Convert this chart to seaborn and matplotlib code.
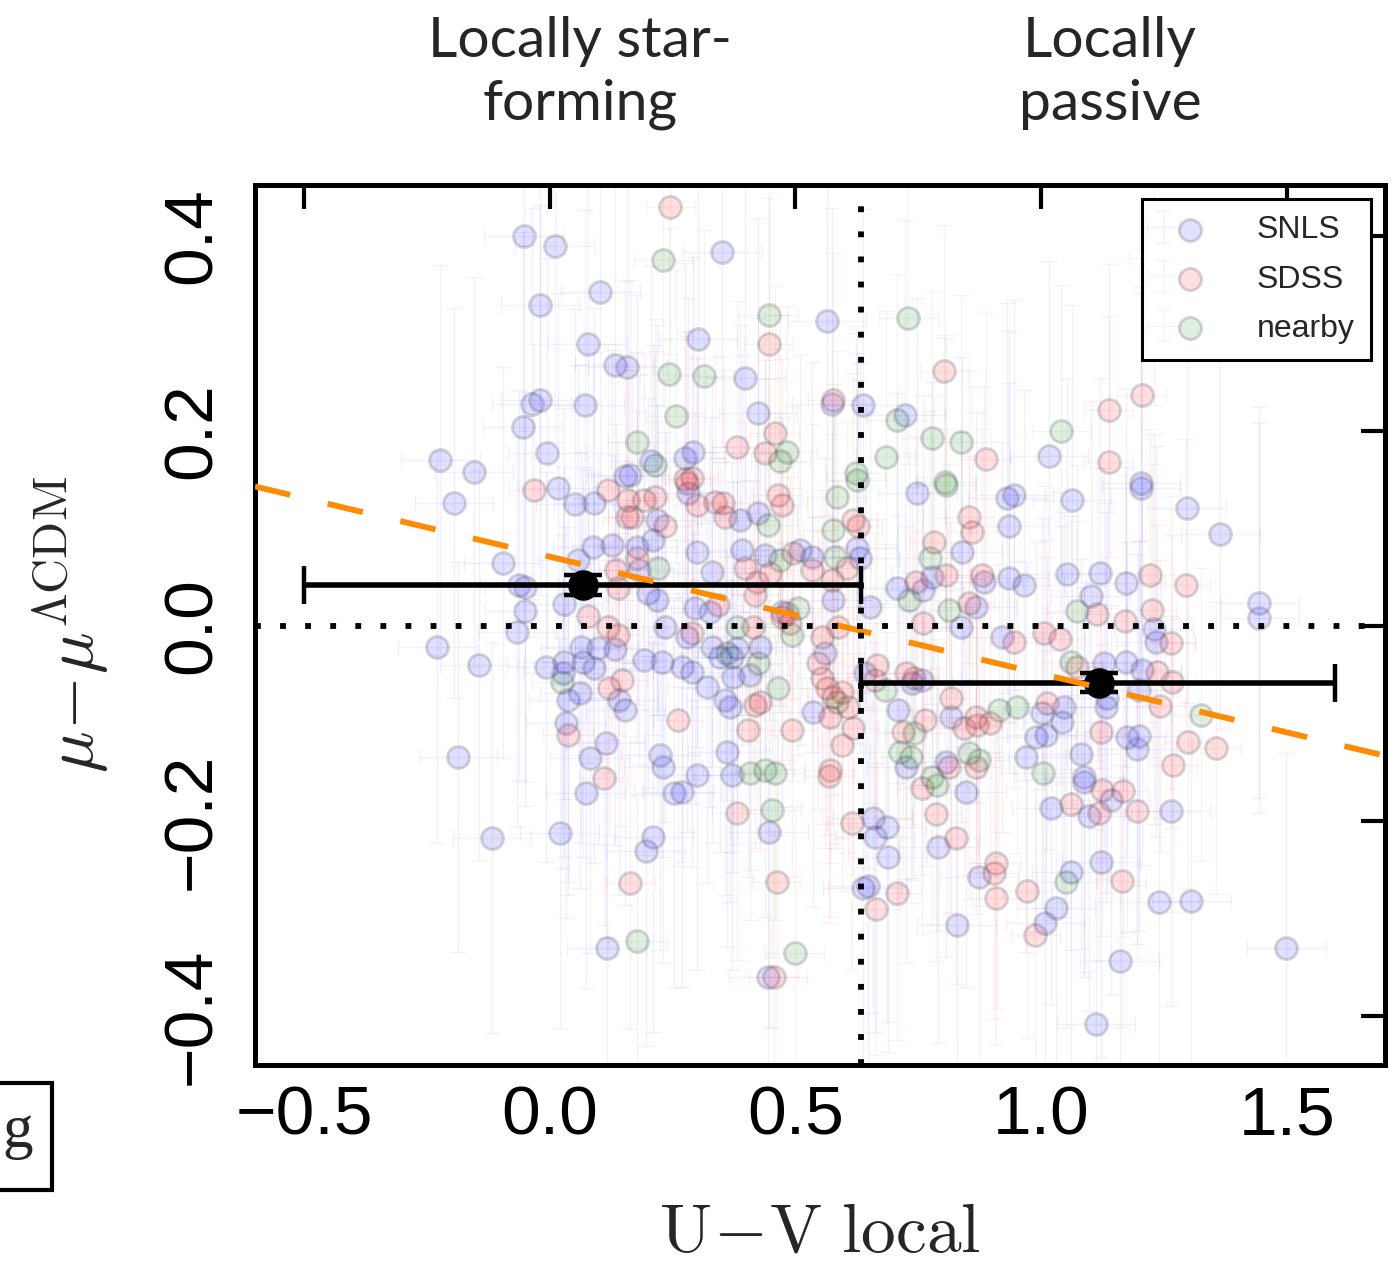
import numpy as np
import pandas as pd
import matplotlib
matplotlib.use("Agg")
import matplotlib.pyplot as plt
import seaborn as sns
from matplotlib.legend_handler import HandlerTuple
from matplotlib.patches import Rectangle

# ---------------- data ----------------
snls_x = [-0.053, 0.010, -0.020, 0.103, 0.077, 0.132, 0.158, -0.037, -0.020, 0.071,
          -0.055, -0.223, -0.154, -0.006, 0.154, 0.351, 0.302, 0.398, 0.564, 0.574,
          0.637, 0.424, 0.724, 0.205, 0.276, 0.292, 0.164, 1.016, 1.203, -0.195,
          -0.095, -0.063, -0.051, -0.051, 0.028, -0.067, -0.229, -0.144, -0.008, 0.028,
          0.026, 0.063, 0.099, 0.132, 0.067, 0.089, 0.037, 0.061, 0.032, 0.114,
          0.081, -0.187, 0.016, 0.051, 0.089, 0.087, 0.126, 0.057, 0.154, 0.140,
          0.282, 0.219, 0.211, 0.178, 0.181, 0.199, 0.219, 0.424, 0.387, 0.300,
          0.391, 0.438, 0.331, 0.509, 0.533, 0.625, 0.631, 0.576, 0.651, 0.296,
          0.327, 0.235, 0.280, 0.473, 0.191, 0.229, 0.270, 0.290, 0.331, 0.347,
          0.381, 0.371, 0.428, 0.373, 0.408, 0.320, 0.560, 0.357, 0.367, 0.535,
          0.361, 0.225, 0.231, 0.300, 0.371, 0.641, 0.738, 0.757, 0.708, 0.817,
          0.726, 0.807, 0.748, 0.931, 0.840, 0.777, 0.706, 0.759, 0.838, 0.884,
          0.868, 0.935, 0.935, 0.921, 0.945, 1.063, 1.203, 1.296, 1.365, 0.966,
          1.053, 1.120, 1.172, 1.101, 1.444, 1.444, 1.229, 1.233, 1.128, 1.172,
          1.205, 1.199, 1.134, 1.132, 1.002, 1.047, 1.043, 0.990, 1.010, 1.174,
          1.199, 1.195, 0.970, 1.081, 1.087, 1.142, 1.020, 1.097, 1.264, 1.122,
          1.061, 1.241, 1.306, 1.030, 1.008, 1.160, 1.499, 1.112, -0.118, 0.020,
          0.073, 0.116, 0.252, 0.270, 0.446, 0.211, 0.195, 0.444, 0.657, 0.686,
          0.661, 0.688, 0.848, 0.791, 0.637, 0.647, 0.828, 0.874, 1.087]
snls_y = [0.400, 0.389, 0.329, 0.342, 0.289, 0.267, 0.265, 0.228, 0.232, 0.226,
          0.204, 0.170, 0.158, 0.177, 0.154, 0.383, 0.294, 0.254, 0.313, 0.228,
          0.227, 0.218, 0.216, 0.169, 0.172, 0.178, 0.155, 0.174, 0.147, 0.126,
          0.065, 0.042, 0.040, 0.015, 0.023, -0.006, -0.022, -0.040, -0.042, -0.037,
          -0.048, -0.022, -0.023, -0.024, -0.037, -0.043, -0.076, -0.069, -0.099, -0.120,
          -0.135, -0.134, 0.141, 0.125, 0.126, 0.081, 0.083, 0.068, -0.086, -0.076,
          0.136, 0.109, 0.088, 0.081, 0.057, 0.034, 0.027, 0.116, 0.109, 0.076,
          0.078, 0.073, 0.055, 0.078, 0.071, 0.080, 0.070, 0.027, 0.019, 0.018,
          0.014, -0.001, -0.011, 0.014, -0.035, -0.037, -0.042, -0.047, -0.022, -0.032,
          -0.023, -0.032, -0.022, -0.052, -0.050, -0.063, -0.028, -0.076, -0.083, -0.088,
          -0.129, -0.132, -0.145, -0.153, -0.153, -0.048, -0.058, -0.055, -0.086, -0.093,
          -0.145, -0.139, 0.136, 0.131, 0.076, 0.050, 0.039, 0.037, -0.001, 0.045,
          0.019, 0.102, 0.049, -0.011, 0.134, 0.129, 0.141, 0.121, 0.094, 0.042,
          0.053, 0.054, 0.044, 0.031, 0.024, 0.008, -0.003, -0.016, -0.038, -0.037,
          -0.045, -0.066, -0.074, -0.083, -0.089, -0.083, -0.098, -0.114, -0.112, -0.114,
          -0.113, -0.126, -0.134, -0.131, -0.155, -0.178, -0.187, -0.195, -0.190, -0.242,
          -0.252, -0.283, -0.282, -0.289, -0.304, -0.343, -0.330, -0.408, -0.217, -0.212,
          -0.171, -0.330, -0.171, -0.170, -0.211, -0.216, -0.231, -0.360, -0.197, -0.206,
          -0.216, -0.237, -0.170, -0.227, -0.269, -0.267, -0.307, -0.257, -0.160]

sdss_x = [0.245, 0.446, 0.803, 0.576, 0.458, 0.888, 0.381, 0.438, 0.276, 0.290,
          1.229, 1.205, 1.138, 1.138, -0.032, 0.118, 0.158, 0.160, 0.134, 0.138,
          0.077, 0.118, 0.138, 0.120, 0.148, 0.037, 0.110, 0.280, 0.337, 0.353,
          0.300, 0.191, 0.215, 0.235, 0.168, 0.178, 0.357, 0.464, 0.473, 0.398,
          0.422, 0.418, 0.495, 0.533, 0.448, 0.574, 0.604, 0.617, 0.627, 0.343,
          0.290, 0.414, 0.473, 0.483, 0.489, 0.554, 0.586, 0.546, 0.554, 0.564,
          0.576, 0.594, 0.606, 0.418, 0.428, 0.260, 0.404, 0.493, 0.570, 0.617,
          0.594, 0.570, 0.667, 0.661, 0.726, 0.742, 0.718, 0.763, 0.817, 0.868,
          0.870, 0.844, 0.895, 0.813, 0.868, 0.854, 0.860, 0.783, 0.807, 0.746,
          0.759, 0.880, 0.854, 1.221, 1.294, 1.114, 1.170, 1.225, 1.264, 1.006,
          1.039, 0.945, 1.073, 1.235, 1.266, 1.012, 1.243, 1.122, 1.300, 1.357,
          1.268, 0.164, 0.568, 0.381, 0.462, 0.456, 0.615, 0.757, 0.787, 0.826,
          0.706, 0.663, 0.909, 0.905, 0.909, 1.124, 1.166, 1.061, 1.118, 1.195,
          1.164, 0.972, 0.988]
sdss_y = [0.429, 0.289, 0.261, 0.232, 0.198, 0.171, 0.183, 0.177, 0.151, 0.152,
          0.377, 0.237, 0.221, 0.168, 0.139, 0.139, 0.112, 0.129, 0.057, 0.039,
          0.010, -0.001, -0.009, -0.064, -0.055, -0.112, -0.156, 0.147, 0.127, 0.126,
          0.124, 0.129, 0.132, 0.102, 0.112, 0.070, 0.112, 0.134, 0.124, 0.059,
          0.045, 0.032, 0.075, 0.057, 0.054, 0.047, 0.059, 0.109, 0.102, 0.022,
          -0.007, -0.001, 0.009, 0.013, 0.003, -0.011, -0.001, -0.038, -0.053, -0.064,
          -0.073, -0.068, -0.083, -0.081, -0.078, -0.096, -0.107, -0.107, -0.093, -0.105,
          -0.122, -0.148, -0.040, -0.055, -0.048, -0.053, -0.109, -0.096, -0.074, -0.093,
          -0.102, -0.105, -0.099, -0.145, -0.145, 0.112, 0.096, 0.086, 0.052, 0.045,
          0.003, 0.052, 0.024, 0.052, 0.042, 0.012, 0.005, 0.016, -0.017, -0.007,
          -0.013, -0.016, -0.042, -0.047, -0.057, -0.079, -0.082, -0.109, -0.119, -0.125,
          -0.143, -0.263, -0.154, -0.192, -0.262, -0.360, -0.202, -0.166, -0.193, -0.217,
          -0.274, -0.290, -0.243, -0.253, -0.279, -0.168, -0.169, -0.182, -0.192, -0.190,
          -0.261, -0.272, -0.317]

nearby_x = [0.231, 0.446, 0.730, 0.243, 0.314, 0.256, 0.706, 0.178, 0.777, 0.838,
            0.215, 0.483, 0.469, 0.684, 0.623, 0.805, 1.041, 0.024, 0.221, 0.444,
            0.469, 0.576, 0.584, 0.580, 0.625, 0.381, 0.505, 0.493, 0.361, 0.424,
            0.584, 0.464, 0.408, 0.438, 0.458, 0.682, 0.742, 0.915, 0.712, 0.736,
            0.854, 0.874, 0.777, 0.807, 0.773, 0.732, 0.813, 1.073, 1.061, 0.951,
            1.325, 1.004, 1.051, 0.789, 0.452, 0.178, 0.499]
nearby_y = [0.375, 0.319, 0.316, 0.258, 0.256, 0.215, 0.211, 0.189, 0.193, 0.189,
            0.165, 0.178, 0.169, 0.173, 0.157, 0.148, 0.200, -0.057, 0.059, 0.103,
            0.068, 0.098, 0.132, 0.071, 0.150, -0.001, 0.018, -0.009, -0.028, -0.038,
            -0.078, -0.064, -0.151, -0.148, -0.151, -0.066, -0.110, -0.086, -0.129, -0.134,
            -0.130, -0.137, -0.155, 0.145, 0.070, 0.027, 0.016, 0.015, -0.037, -0.083,
            -0.091, -0.151, -0.262, -0.163, -0.189, -0.323, -0.335]

# typical (estimated) per-survey uncertainties
survey_names = ["SNLS", "SDSS", "nearby"]
survey_xerr = [0.08, 0.05, 0.06]
survey_yerr = [0.20, 0.15, 0.15]

# binned means
bin_x = [0.067, 1.118]
bin_y = [0.042, -0.058]
bin_xlo = [-0.500, 0.633]
bin_xhi = [0.633, 1.598]
bin_yerr = [0.010, 0.010]

# linear trend
fit_slope = -0.120
fit_intercept = 0.071

split_x = 0.633
x_ticks = [-0.5, 0.0, 0.5, 1.0, 1.5]
y_ticks = [-0.4, -0.2, 0.0, 0.2, 0.4]

# ---------------- plotting ----------------
sns.set_style("white")
plt.rcParams["font.family"] = ["Liberation Sans", "DejaVu Sans"]
plt.rcParams["mathtext.fontset"] = "cm"

W, H = 1396, 1264
fig = plt.figure(figsize=(W / 100, H / 100), dpi=100)
ax = fig.add_axes([255 / W, 1 - 1065 / H, (1385 - 255) / W, (1065 - 185) / H])

df = pd.concat([
    pd.DataFrame({"x": snls_x, "y": snls_y, "survey": "SNLS"}),
    pd.DataFrame({"x": sdss_x, "y": sdss_y, "survey": "SDSS"}),
    pd.DataFrame({"x": nearby_x, "y": nearby_y, "survey": "nearby"}),
], ignore_index=True)

base_cols = {"SNLS": (0.0, 0.0, 1.0), "SDSS": (1.0, 0.0, 0.0), "nearby": (0.0, 0.5, 0.0)}

handles = []
for name, xe, ye in zip(survey_names, survey_xerr, survey_yerr):
    sub = df[df["survey"] == name]
    c = base_cols[name]
    eb = ax.errorbar(sub["x"], sub["y"], xerr=xe, yerr=ye, fmt="none",
                     ecolor=c + (0.06,), elinewidth=1.0, capsize=6, capthick=1.0,
                     zorder=1)
    sns.scatterplot(data=sub, x="x", y="y", ax=ax, color=c + (0.12,),
                    edgecolor=(0.3, 0.3, 0.35, 0.22), linewidth=2.2, s=250,
                    legend=False, zorder=2)
    sc = ax.collections[-1]
    handles.append((eb, sc))

# binned means with error bars
for bx, by, lo, hi, ye in zip(bin_x, bin_y, bin_xlo, bin_xhi, bin_yerr):
    ax.errorbar([bx], [by], xerr=[[bx - lo], [hi - bx]], yerr=[[ye], [ye]],
                fmt="o", color="black", ms=21, elinewidth=4.0, capsize=14,
                capthick=3.2, zorder=5)

# dashed trend line
xl = (-0.6, 1.7)
line_x = np.array(xl)
sns.lineplot(x=line_x, y=fit_intercept + fit_slope * line_x, ax=ax,
             color="darkorange", lw=4.2, zorder=6)
ax.lines[-1].set_dashes((6.2, 6.6))

# dotted reference lines
ax.axhline(0, color="black", lw=4.2, ls=(0, (1, 3.3)), dash_capstyle="butt", zorder=7)
ax.axvline(split_x, color="black", lw=4.2, ls=(0, (1, 3.3)), dash_capstyle="butt", zorder=7)

ax.set_xlim(*xl)
ax.set_ylim(-0.45, 0.452)
ax.set_xticks(x_ticks)
ax.set_xticklabels(["\u22120.5", "0.0", "0.5", "1.0", "1.5"])
ax.set_yticks(y_ticks)
ax.set_yticklabels(["\u22120.4", "\u22120.2", "0.0", "0.2", "0.4"])
ax.tick_params(direction="in", length=17, width=3, top=True, right=True,
               labelsize=50, colors="black")
ax.tick_params(axis="x", pad=14)
ax.tick_params(axis="y", pad=22, labelrotation=90)
for lab in ax.get_yticklabels():
    lab.set_va("center")
for sp in ax.spines.values():
    sp.set_linewidth(3.6)
    sp.set_color("black")

ax.set_xlabel(r"$\mathrm{U\!-\!V\ local}$", fontsize=50)
ax.set_ylabel(r"$\mu\!-\!\mu^{\Lambda\mathrm{CDM}}$", fontsize=50)
ax.xaxis.set_label_coords(0.5, -0.155)
ax.yaxis.set_label_coords(-0.127, 0.5)

leg = ax.legend(handles=handles, labels=survey_names, loc="upper right",
                handler_map={tuple: HandlerTuple(ndivide=None)},
                fontsize=23, frameon=True, fancybox=False, framealpha=1,
                edgecolor="black", handletextpad=1.9, handlelength=1.2,
                borderaxespad=0.45, labelspacing=0.6, borderpad=0.5)
leg.get_frame().set_linewidth(2.2)

# slide annotations above the plot
fig.text(580 / W, 1 - 73 / H, "Locally star-\nforming", ha="center", va="center",
         fontsize=41, family=["Lato", "DejaVu Sans"], linespacing=1.3)
fig.text(1110 / W, 1 - 73 / H, "Locally\npassive", ha="center", va="center",
         fontsize=41, family=["Lato", "DejaVu Sans"], linespacing=1.3)

# cropped box at bottom-left
fig.patches.append(Rectangle((-0.02, 1 - 1190 / H), 0.02 + 52 / W, 107 / H,
                             transform=fig.transFigure, fill=False,
                             edgecolor="black", lw=3, figure=fig))
fig.text(18 / W, 1 - 1132 / H, "g", ha="center", va="center", fontsize=44,
         family=["Liberation Serif", "DejaVu Serif"])

fig.savefig("out.png", dpi=100)
